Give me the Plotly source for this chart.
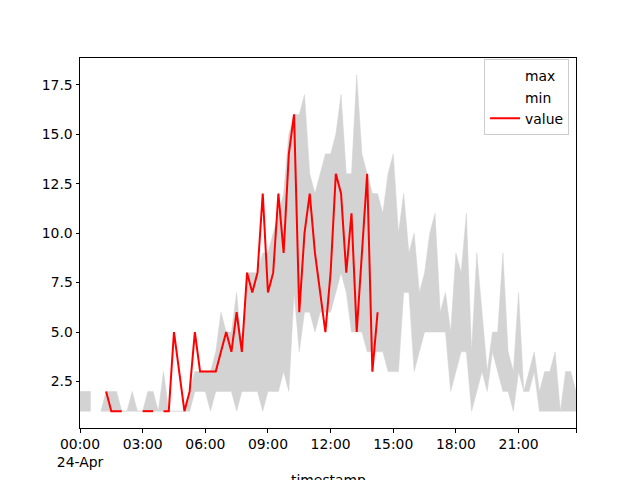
import numpy as np
import pandas as pd
import plotly.graph_objects as go

nan = np.nan

# 15-minute timestamps for 24-Apr
timestamps = pd.date_range("2023-04-24 00:00", periods=96, freq="15min")

max_vals = [2, 2, 2, nan, 1, 2, 2, 2, 1, 1, 2, 1, 1, 2, 2, 1,
            3, 1, 1, 1, 1, 2, 3, 3, 3, 3, 4, 6, 5, 5, 7, 4,
            8, 8, 8, 9, 9, 10, 11, 12, 15, 16, 16, 17, 13, 12, 13, 14,
            14, 15, 17, 13, 13, 18, 14, 13, 12, 12, 11, 13, 14, 10, 12, 9,
            10, 7, 8, 10, 11, 6, 7, 5, 9, 8, 11, 4, 9, 6, 3, 5,
            5, 9, 4, 3, 7, 2, 3, 4, 2, 3, 3, 4, 1, 3, 3, 2]

min_vals = [1, 1, 1, nan, 1, 1, 1, 1, 1, 1, 1, 1, 1, 1, 1, 1,
            1, 1, 1, 1, 1, 1, 2, 2, 2, 1, 2, 2, 2, 2, 1, 2,
            2, 2, 2, 1, 2, 2, 2, 3, 2, 7, 4, 6, 6, 5, 6, 6,
            6, 7, 8, 7, 5, 5, 5, 4, 4, 4, 4, 3, 3, 3, 7, 7,
            3, 4, 5, 5, 5, 5, 5, 2, 3, 4, 4, 1, 2, 3, 2, 4,
            3, 2, 2, 1, 3, 2, 2, 3, 1, 1, 1, 1, 1, 1, 1, 1]

value_vals = [nan, nan, nan, nan, nan, 2, 1, 1, 1, nan, nan, nan, 1, 1, 1, nan,
              1, 1, 5, 3, 1, 2, 5, 3, 3, 3, 3, 4, 5, 4, 6, 4,
              8, 7, 8, 12, 7, 8, 12, 9, 14, 16, 6, 10, 12, 9, 7, 5,
              8, 13, 12, 8, 11, 5, 9, 13, 3, 6, nan, nan, nan, nan, nan, nan,
              nan, nan, nan, nan, nan, nan, nan, nan, nan, nan, nan, nan, nan, nan, nan, nan,
              nan, nan, nan, nan, nan, nan, nan, nan, nan, nan, nan, nan, nan, nan, nan, nan]

x_tick_hours = [0, 3, 6, 9, 12, 15, 18, 21]
x_tick_labels = ["00:00<br>24-Apr", "03:00", "06:00", "09:00", "12:00", "15:00", "18:00", "21:00"]
y_ticks = [2.5, 5.0, 7.5, 10.0, 12.5, 15.0, 17.5]

df = pd.DataFrame({"max": max_vals, "min": min_vals, "value": value_vals}, index=timestamps)

FONT = "DejaVu Sans"
fig = go.Figure()

# legend entries for max/min (white lines, like matplotlib's invisible handles)
for col in ["max", "min"]:
    fig.add_trace(go.Scatter(x=df.index, y=df[col], mode="lines", name=col,
                             line=dict(color="white", width=1.5), hoverinfo="skip"))

# filled band between min and max, one polygon per contiguous segment
valid = df["max"].notna() & df["min"].notna()
seg_id = (valid != valid.shift()).cumsum()
for _, seg in df[valid].groupby(seg_id[valid]):
    xs = list(seg.index) + list(seg.index[::-1])
    ys = list(seg["max"]) + list(seg["min"][::-1])
    fig.add_trace(go.Scatter(x=xs, y=ys, mode="lines", fill="toself",
                             fillcolor="#d3d3d3", line=dict(color="#d3d3d3", width=0.5),
                             showlegend=False, hoverinfo="skip"))

fig.add_trace(go.Scatter(x=df.index, y=df["value"], mode="lines", name="value",
                         line=dict(color="red", width=2), connectgaps=False))

tickvals = [timestamps[0] + pd.Timedelta(hours=h) for h in x_tick_hours] + [timestamps[-1]]
ticktext = x_tick_labels + [""]

# the page body adds an 8px offset, so the figure is 632x472 with shifted margins
fig.update_layout(
    width=632, height=472,
    margin=dict(l=72, r=64, t=50, b=52.4, autoexpand=False),
    paper_bgcolor="white", plot_bgcolor="white",
    font=dict(family=FONT, size=13.9, color="black"),
    showlegend=True,
    legend=dict(x=0.986, y=0.996, xanchor="right", yanchor="top",
                bgcolor="rgba(255,255,255,0.8)", bordercolor="#cccccc", borderwidth=1,
                font=dict(family=FONT, size=13.9), itemwidth=30, tracegroupgap=0),
    xaxis=dict(range=[timestamps[0], timestamps[-1]], tickvals=tickvals, ticktext=ticktext,
               automargin=False,
               showgrid=False, zeroline=False, showline=True, linecolor="black", linewidth=1,
               mirror=True, ticks="outside", ticklen=3.5, tickcolor="black",
               tickfont=dict(family=FONT, size=13.9, color="black")),
    yaxis=dict(range=[0.15, 18.85], tickvals=y_ticks, ticktext=[f"{v:.1f}" for v in y_ticks],
               automargin=False,
               showgrid=False, zeroline=False, showline=True, linecolor="black", linewidth=1,
               mirror=True, ticks="outside", ticklen=3.5, tickcolor="black",
               tickfont=dict(family=FONT, size=13.9, color="black")),
    annotations=[dict(text="timestamp", x=0.5, y=0, xref="paper", yref="paper",
                      xanchor="center", yanchor="top", yshift=-42, showarrow=False,
                      font=dict(family=FONT, size=13.9, color="black"))],
)

fig.write_html("out.html", config={"displayModeBar": False})
